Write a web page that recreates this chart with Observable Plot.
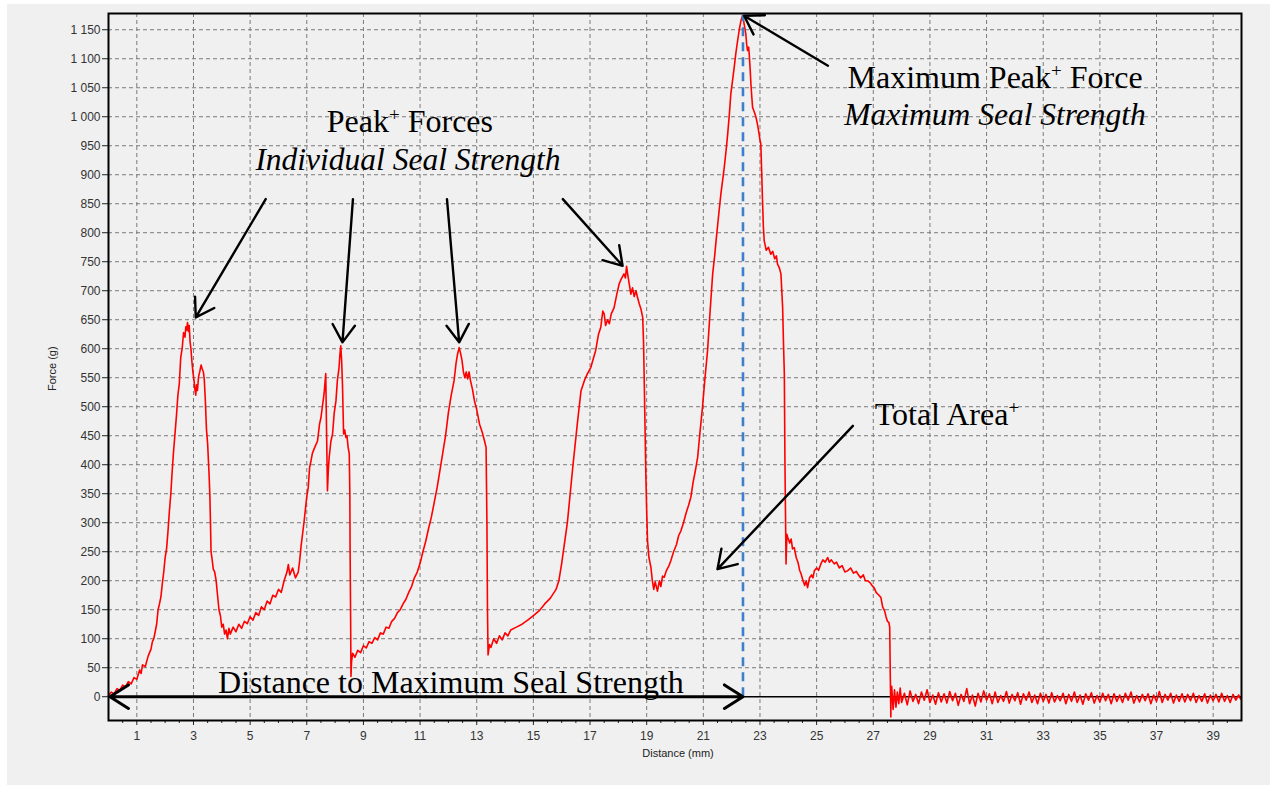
<!DOCTYPE html>
<html>
<head>
<meta charset="utf-8">
<script src="https://cdn.jsdelivr.net/npm/d3@7"></script>
<script src="https://cdn.jsdelivr.net/npm/@observablehq/plot@0.6"></script>
<style>
  html, body { margin: 0; padding: 0; background: #ffffff; }
  #panel { position: absolute; left: 7px; top: 4px; width: 1263px; height: 781px; background: #f0f0f0; }
  #chart { position: absolute; left: 0; top: 0; }
</style>
</head>
<body>
<div id="panel"></div>
<div id="chart"></div>
<script>
// ---------- data: force (g) vs distance (mm) ----------
const seal1 = [[0.0,2],[0.1,8],[0.2,5],[0.3,14],[0.4,11],[0.5,20],[0.6,17],[0.7,26],[0.8,22],[0.9,33],[1.0,30],[1.1,46],[1.15,40],[1.2,55],[1.3,52],[1.4,70],[1.5,82],[1.55,95],[1.6,100],[1.7,125],[1.75,150],[1.8,160],[1.85,172],[1.9,195],[1.95,215],[2.0,240],[2.05,255],[2.1,285],[2.15,320],[2.2,350],[2.25,390],[2.3,425],[2.35,455],[2.4,485],[2.45,520],[2.5,540],[2.55,585],[2.6,600],[2.65,628],[2.7,620],[2.73,638],[2.76,632],[2.79,645],[2.82,630],[2.85,640],[2.88,612],[2.91,600],[2.95,575],[2.98,560],[3.02,545],[3.05,530],[3.08,520],[3.11,538],[3.14,528],[3.18,552],[3.22,560],[3.27,572],[3.31,565],[3.35,560],[3.38,548],[3.42,510],[3.46,460],[3.5,436],[3.55,384],[3.58,345],[3.6,300],[3.62,250],[3.65,240],[3.7,220],[3.75,215],[3.8,200],[3.85,175],[3.9,150],[3.95,140],[4.0,120],[4.05,125],[4.1,108],[4.15,115],[4.2,100],[4.25,118],[4.3,108],[4.4,120],[4.5,112],[4.6,125],[4.7,118],[4.8,130],[4.9,126],[5.0,138],[5.1,132],[5.2,145],[5.3,140],[5.4,155],[5.5,150],[5.6,165],[5.7,160],[5.8,175],[5.9,172],[6.0,185],[6.1,180],[6.2,200],[6.3,215],[6.35,228],[6.4,210],[6.5,222],[6.6,205],[6.7,215],[6.75,235]];
const seal2 = [[6.8,260],[6.9,300],[7.0,345],[7.05,360],[7.1,395],[7.15,407],[7.2,420],[7.3,432],[7.38,441],[7.45,470],[7.5,481],[7.55,500],[7.61,522],[7.65,545],[7.67,557],[7.7,453],[7.73,355],[7.76,390],[7.79,412],[7.85,440],[7.91,453],[7.97,490],[8.03,510],[8.08,545],[8.14,568],[8.17,590],[8.2,605],[8.23,580],[8.26,539],[8.3,453],[8.34,460],[8.38,447],[8.42,450],[8.46,430],[8.5,419],[8.52,350],[8.53,252],[8.55,120],[8.56,35],[8.58,60],[8.62,75],[8.7,68],[8.8,80],[8.9,76],[9.0,88],[9.1,84],[9.2,95],[9.3,92],[9.4,102],[9.5,98],[9.6,110],[9.7,108],[9.8,120],[9.9,118],[10.0,130],[10.1,135],[10.2,145],[10.3,150],[10.4,160],[10.5,168],[10.6,180],[10.7,190],[10.8,205],[10.9,215],[11.0,230],[11.1,250],[11.2,268],[11.3,290],[11.4,310],[11.5,335],[11.6,360],[11.7,390],[11.8,420],[11.9,450],[12.0,490],[12.1,520],[12.2,545],[12.27,575],[12.32,590],[12.38,602],[12.43,592],[12.48,580],[12.53,560],[12.58,550],[12.63,560],[12.68,548],[12.73,560],[12.78,545],[12.85,530],[12.92,510],[13.0,495],[13.1,470],[13.2,455],[13.28,440],[13.33,430],[13.36,300],[13.38,150],[13.4,72],[13.45,90]];
const seal3 = [[13.5,85],[13.6,100],[13.7,92],[13.8,105],[13.9,98],[14.0,110],[14.1,105],[14.2,115],[14.4,120],[14.6,125],[14.8,132],[15.0,140],[15.2,148],[15.4,160],[15.6,170],[15.8,185],[15.9,200],[16.0,230],[16.2,300],[16.4,400],[16.55,470],[16.68,527],[16.8,545],[16.91,557],[17.03,568],[17.1,580],[17.2,597],[17.3,625],[17.38,637],[17.45,665],[17.5,660],[17.55,640],[17.62,650],[17.68,643],[17.75,660],[17.85,671],[17.95,695],[18.03,712],[18.1,720],[18.2,729],[18.25,722],[18.29,742],[18.34,725],[18.39,710],[18.44,694],[18.5,705],[18.56,690],[18.62,700],[18.68,688],[18.74,677],[18.8,668],[18.86,654],[18.89,610],[18.91,557],[18.94,470],[18.97,384],[19.0,320],[19.03,269],[19.08,240],[19.15,223],[19.2,200],[19.25,185],[19.3,198],[19.38,182],[19.45,200],[19.5,190],[19.56,208],[19.62,206],[19.7,218],[19.78,225],[19.85,234],[19.95,250],[20.05,262],[20.13,278],[20.21,286],[20.3,300],[20.4,318],[20.48,330],[20.56,344],[20.64,370],[20.72,390],[20.8,413],[20.88,455],[20.97,499],[21.05,545],[21.15,597],[21.24,665],[21.33,729],[21.4,760],[21.45,786],[21.53,825],[21.62,867],[21.68,890],[21.74,913],[21.8,940],[21.86,970],[21.92,1005],[21.97,1039],[22.03,1062],[22.09,1085],[22.15,1110],[22.21,1131],[22.27,1150],[22.33,1166],[22.39,1175]];
const seal4 = [[22.44,1160],[22.5,1143],[22.53,1125],[22.56,1114],[22.6,1120],[22.62,1108],[22.65,1085],[22.68,1057],[22.71,1035],[22.74,1016],[22.8,1008],[22.86,999],[22.92,985],[22.97,970],[23.0,960],[23.03,953],[23.06,905],[23.09,855],[23.12,810],[23.15,786],[23.22,770],[23.3,775],[23.38,763],[23.45,768],[23.52,755],[23.58,760],[23.62,746],[23.68,740],[23.74,729],[23.77,700],[23.8,671],[23.83,610],[23.86,557],[23.88,413],[23.9,320],[23.92,229],[23.95,280],[23.98,275],[24.05,265],[24.1,272],[24.15,255],[24.21,257],[24.28,240],[24.35,230],[24.4,218],[24.45,212],[24.52,200],[24.58,192],[24.63,200],[24.68,188],[24.75,205],[24.82,210],[24.87,205],[24.92,217],[25.0,222],[25.07,218],[25.15,229],[25.22,236],[25.3,232],[25.39,240],[25.45,232],[25.52,236],[25.62,229],[25.7,232],[25.8,222],[25.9,226],[26.0,215],[26.09,217],[26.2,222],[26.3,213],[26.4,216],[26.45,212],[26.55,205],[26.65,210],[26.72,200],[26.8,200],[26.9,196],[26.95,192],[27.03,188],[27.1,180],[27.2,175],[27.27,171],[27.33,155],[27.4,148],[27.45,138],[27.5,130],[27.55,128],[27.58,120],[27.6,40],[27.62,-35],[27.63,15]];
const tail = [[27.65,18],[27.7,-22],[27.75,12],[27.8,-18],[27.85,8],[27.9,-12],[27.95,15],[28.0,-10],[28.1,6],[28.2,-14],[28.3,10],[28.4,-8],[28.5,4],[28.6,-12],[28.7,8],[28.8,-6],[28.9,12],[29.0,-10],[29.1,3],[29.2,-13],[29.3,7],[29.4,-9],[29.5,5],[29.6,-11],[29.7,9],[29.8,-7],[29.9,6],[30.0,-15],[30.1,4],[30.2,-8],[30.3,14],[30.4,-12],[30.5,3],[30.6,-16],[30.7,6],[30.8,-9],[30.9,10],[31.0,-6],[31.1,5],[31.2,-12],[31.3,8],[31.4,-10],[31.5,2],[31.6,-8],[31.7,9],[31.8,-11],[31.9,4],[32.0,-7],[32.1,7],[32.2,-13],[32.3,5],[32.4,-6],[32.5,8],[32.6,-10],[32.7,3],[32.8,-12],[32.9,6],[33.0,-8],[33.1,4],[33.2,-11],[33.3,7],[33.4,-9],[33.5,2],[33.6,-7],[33.7,6],[33.8,-12],[33.9,4],[34.0,-8],[34.1,8],[34.2,-10],[34.3,3],[34.4,-13],[34.5,5],[34.6,-6],[34.7,7],[34.8,-11],[34.9,2],[35.0,-9],[35.1,6],[35.2,-7],[35.3,4],[35.4,-12],[35.5,5],[35.6,-8],[35.7,3],[35.8,-10],[35.9,6],[36.0,-6],[36.1,8],[36.2,-11],[36.3,2],[36.4,-9],[36.5,4],[36.6,-7],[36.7,5],[36.8,-12],[36.9,3],[37.0,-8],[37.1,9],[37.2,-10],[37.3,4],[37.4,-6],[37.5,6],[37.6,-11],[37.7,3],[37.8,-8],[37.9,5],[38.0,-9],[38.1,4],[38.2,-7],[38.3,6],[38.4,-10],[38.5,2],[38.6,-8],[38.7,5],[38.8,-11],[38.9,3],[39.0,-7],[39.1,4],[39.2,-9],[39.3,6],[39.4,-8],[39.5,2],[39.6,-10],[39.7,4],[39.8,-6],[39.9,3],[39.97,-4]];

const xTicks = [1,3,5,7,9,11,13,15,17,19,21,23,25,27,29,31,33,35,37,39];
const xMinorTicks = [0.5,1.5,2,2.5,3.5,4,4.5,5.5,6,6.5,7.5,8,8.5,9.5,10,10.5,11.5,12,12.5,13.5,14,14.5,15.5,16,16.5,17.5,18,18.5,19.5,20,20.5,21.5,22,22.5,23.5,24,24.5,25.5,26,26.5,27.5,28,28.5,29.5,30,30.5,31.5,32,32.5,33.5,34,34.5,35.5,36,36.5,37.5,38,38.5,39.5];
const yTicks = [0,50,100,150,200,250,300,350,400,450,500,550,600,650,700,750,800,850,900,950,1000,1050,1100,1150];

const maxPeak = {x: 22.4, y: 1175};

// annotation arrows (data units): start -> end (head)
const peakArrows = [
  {x1: 5.55, y1: 858, x2: 3.08, y2: 654},
  {x1: 8.63, y1: 858, x2: 8.26, y2: 611},
  {x1: 11.95, y1: 858, x2: 12.38, y2: 611},
  {x1: 16.04, y1: 858, x2: 18.15, y2: 743},
  {x1: 25.4, y1: 1088, x2: 22.44, y2: 1174},
  {x1: 26.28, y1: 467, x2: 21.5, y2: 220}
];
const distanceArrow = [
  {x1: 11.2, y1: 0, x2: 0.05, y2: 0},
  {x1: 11.2, y1: 0, x2: 22.4, y2: 0}
];
const labelsRegular = [
  {x: 10.64, y: 992, text: "Peak⁺ Forces"},
  {x: 31.3, y: 1067, text: "Maximum Peak⁺ Force"},
  {x: 12.09, y: 24, text: "Distance to Maximum Seal Strength"}
];
const labelsItalic = [
  {x: 10.57, y: 926, text: "Individual Seal Strength"},
  {x: 31.3, y: 1003, text: "Maximum Seal Strength"}
];
const labelsLeft = [
  {x: 27.05, y: 487, text: "Total Area⁺"}
];

const trace = [...seal1, ...seal2, ...seal3, ...seal4, ...tail];

const locale = d3.formatLocale({decimal: ".", thousands: " ", grouping: [3], currency: ["", ""]});
const fmt = locale.format(",");

const serif = "'Liberation Serif', 'Times New Roman', serif";
const grid = {stroke: "#7a7a7a", strokeOpacity: 1, strokeWidth: 1, strokeDasharray: "4,3"};

const chart = Plot.plot({
  width: 1279,
  height: 792,
  marginLeft: 108,
  marginRight: 38,
  marginTop: 13,
  marginBottom: 72,
  x: {domain: [0, 40]},
  y: {domain: [-41, 1178]},
  style: {background: "transparent", fontFamily: "Arial, 'Liberation Sans', sans-serif", fontSize: "12px", color: "#333"},
  marks: [
    Plot.gridX(xTicks, grid),
    Plot.gridY(yTicks.filter(d => d !== 0), grid),
    Plot.axisX(xMinorTicks, {tickSize: 3, text: null, label: null, stroke: "#222"}),
    Plot.axisX(xTicks, {tickSize: 5, tickPadding: 6, label: null, stroke: "#222"}),
    Plot.axisY(yTicks, {tickSize: 6, tickPadding: 2, tickFormat: fmt, label: null, stroke: "#222"}),
    Plot.text(["Force (g)"], {frameAnchor: "left", dx: -56, dy: 24, rotate: -90, fontSize: 11, fill: "#222"}),
    Plot.text(["Distance (mm)"], {frameAnchor: "bottom", dy: 36, dx: 3, fontSize: 11, fill: "#222"}),
    Plot.ruleY([0], {x1: 22.4, x2: 40, stroke: "#000", strokeWidth: 1.5}),
    Plot.line(trace, {x: d => d[0], y: d => d[1], stroke: "#ff0000", strokeWidth: 1.6, curve: "linear"}),
    Plot.ruleX([maxPeak], {x: "x", y1: 0, y2: "y", stroke: "#3f7fca", strokeWidth: 2.6, strokeDasharray: "9,6"}),
    Plot.arrow(peakArrows, {x1: "x1", y1: "y1", x2: "x2", y2: "y2", stroke: "#000", strokeWidth: 2.4, headLength: 13, headAngle: 65}),
    Plot.arrow(distanceArrow, {x1: "x1", y1: "y1", x2: "x2", y2: "y2", stroke: "#000", strokeWidth: 3, headLength: 11, headAngle: 65}),
    Plot.text(labelsRegular, {x: "x", y: "y", text: "text", fontFamily: serif, fontSize: 32, fill: "#000", textAnchor: "middle"}),
    Plot.text(labelsItalic, {x: "x", y: "y", text: "text", fontStyle: "italic", fontFamily: serif, fontSize: 31.5, fill: "#000", textAnchor: "middle"}),
    Plot.text(labelsLeft, {x: "x", y: "y", text: "text", fontFamily: serif, fontSize: 32, fill: "#000", textAnchor: "start"}),
    Plot.frame({stroke: "#000", strokeWidth: 2})
  ]
});

// render the "+" as a real superscript
chart.querySelectorAll("text").forEach(el => {
  const t = el.textContent;
  if (!t.includes("⁺")) return;
  const [a, b] = t.split("⁺");
  while (el.firstChild) el.removeChild(el.firstChild);
  const ns = "http://www.w3.org/2000/svg";
  const s1 = document.createElementNS(ns, "tspan"); s1.textContent = a;
  const s2 = document.createElementNS(ns, "tspan"); s2.textContent = "+";
  s2.setAttribute("font-size", "19"); s2.setAttribute("dy", "-11");
  const s3 = document.createElementNS(ns, "tspan"); s3.textContent = b;
  s3.setAttribute("dy", "11");
  el.append(s1, s2, s3);
});

document.getElementById("chart").append(chart);
</script>
</body>
</html>
